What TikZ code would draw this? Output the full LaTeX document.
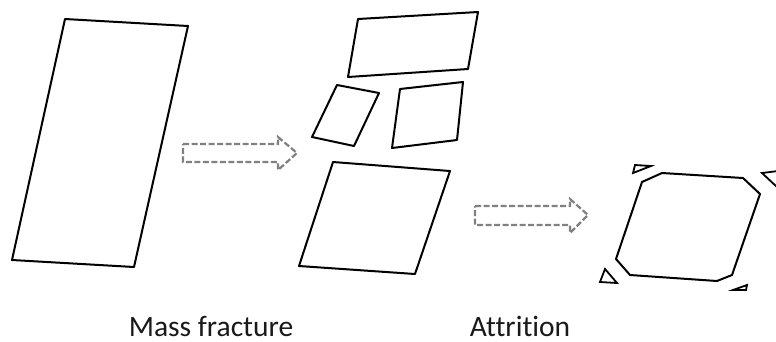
\documentclass[tikz,border=0pt]{standalone}
\usepackage{fontspec}
\setmainfont{Carlito}[Ligatures={NoCommon}]
\begin{document}
\begin{tikzpicture}[x=1pt,y=-1pt,
  piece/.style={draw=black,line width=2pt,line join=round},
  grain/.style={draw=black,line width=1.8pt,line join=miter},
  flow/.style={draw=black!50,line width=2.2pt,dash pattern=on 6pt off 2.5pt,line join=miter},
  caption/.style={font=\fontsize{29.5}{34}\selectfont,text=black!90,inner sep=0pt,anchor=base}]
\useasboundingbox (0,0) rectangle (776,341);
% original particle
\draw[piece] (65,19) -- (188,26) -- (134,267) -- (12,260) -- cycle;
% fragments
\draw[piece] (358,19) -- (478,12) -- (468,69) -- (348,77) -- cycle;
\draw[piece] (337,85) -- (379,93) -- (354,146) -- (312,137) -- cycle;
\draw[piece] (400,89) -- (463,82) -- (457,140) -- (392,148) -- cycle;
\draw[piece] (333,162) -- (450,171) -- (415,274) -- (299,266) -- cycle;
% attrited particle
\draw[piece] (662,173) -- (743,178) -- (760,194) -- (732,275) -- (717,281) -- (630,275) -- (616,259) -- (642,182) -- cycle;
% abraded corners
\draw[grain] (635,165) -- (651,166) -- (633,173) -- cycle;
\draw[grain] (762,173) -- (778,171) -- (778,188) -- cycle;
\draw[grain] (605,269) -- (617,283) -- (600,282) -- cycle;
\draw[grain] (747,285) -- (746,290) -- (733,290) -- cycle;
% arrows
\draw[flow] (183,144) -- (278,144) -- (278,137) -- (297,153) -- (278,170) -- (278,162) -- (183,162) -- cycle;
\draw[flow] (475,206) -- (570,206) -- (570,199) -- (588,215) -- (570,233) -- (570,225) -- (475,225) -- cycle;
% captions
\node[caption] (mf) at (211,336) {Mass fracture};
\node[caption] (at) at (520,336) {Attrition};
\end{tikzpicture}
\end{document}
